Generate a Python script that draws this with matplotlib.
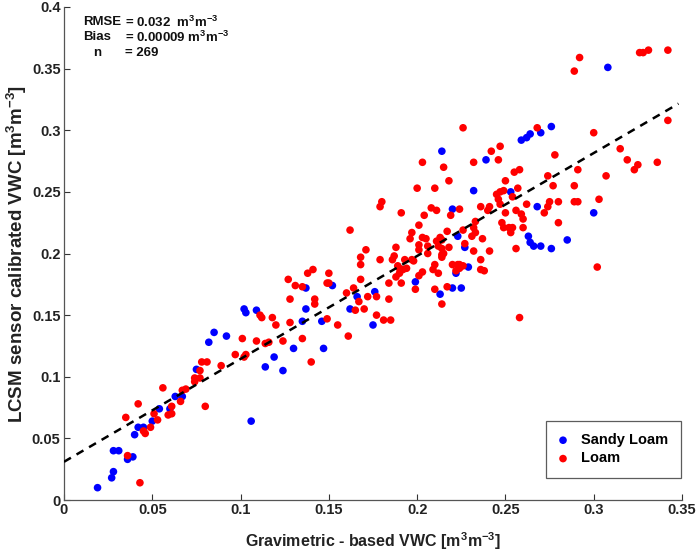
import numpy as np
import matplotlib
matplotlib.use("Agg")
import matplotlib.pyplot as plt

plt.rcParams['font.family'] = ['Liberation Sans', 'DejaVu Sans']
plt.rcParams['font.weight'] = 'bold'
plt.rcParams['mathtext.fontset'] = 'custom'
plt.rcParams['mathtext.rm'] = 'Liberation Sans:bold'
plt.rcParams['mathtext.bf'] = 'Liberation Sans:bold'
plt.rcParams['mathtext.default'] = 'bf'

# Sandy Loam (blue)
sandy_x = [0.019, 0.027, 0.028, 0.028, 0.031, 0.036, 0.039, 0.040, 0.042, 0.045,
           0.050, 0.054, 0.060, 0.063, 0.067, 0.075, 0.082, 0.085, 0.092, 0.102,
           0.103, 0.106, 0.109, 0.114, 0.119, 0.124, 0.130, 0.135, 0.137, 0.137,
           0.146, 0.147, 0.152, 0.162, 0.166, 0.176, 0.175, 0.199, 0.213, 0.220,
           0.225, 0.222, 0.229, 0.214, 0.232, 0.239, 0.259, 0.262, 0.264, 0.270,
           0.276, 0.308, 0.300, 0.285, 0.276, 0.270, 0.266, 0.264, 0.263, 0.268,
           0.253, 0.227, 0.223, 0.220]
sandy_y = [0.010, 0.018, 0.023, 0.040, 0.040, 0.033, 0.035, 0.053, 0.059, 0.059,
           0.064, 0.074, 0.074, 0.084, 0.084, 0.106, 0.128, 0.136, 0.133, 0.155,
           0.152, 0.064, 0.154, 0.108, 0.116, 0.105, 0.123, 0.145, 0.155, 0.172,
           0.145, 0.123, 0.174, 0.155, 0.165, 0.169, 0.142, 0.177, 0.167, 0.172,
           0.172, 0.184, 0.189, 0.283, 0.251, 0.276, 0.292, 0.294, 0.297, 0.298,
           0.303, 0.351, 0.233, 0.211, 0.204, 0.206, 0.206, 0.209, 0.214, 0.238,
           0.250, 0.205, 0.214, 0.236]

# Loam (red)
loam_x = [0.036, 0.035, 0.042, 0.043, 0.045, 0.046, 0.049, 0.051, 0.053, 0.056,
          0.059, 0.061, 0.061, 0.066, 0.067, 0.069, 0.074, 0.074, 0.077, 0.077,
          0.080, 0.078, 0.081, 0.089, 0.097, 0.101, 0.103, 0.102, 0.109, 0.111,
          0.112, 0.114, 0.116, 0.118, 0.120, 0.124, 0.127, 0.128, 0.128, 0.131,
          0.135, 0.135, 0.140, 0.142, 0.142, 0.149, 0.149, 0.150, 0.155, 0.161,
          0.160, 0.138, 0.141, 0.150, 0.162, 0.164,
          0.167, 0.165, 0.170, 0.172, 0.177, 0.184, 0.177, 0.181, 0.185, 0.168,
          0.184, 0.191, 0.210, 0.214, 0.217, 0.199, 0.201, 0.203, 0.198,
          0.226, 0.203, 0.215, 0.218, 0.200, 0.210, 0.232, 0.242, 0.247, 0.246,
          0.268, 0.255, 0.258, 0.250, 0.278, 0.274, 0.277,
          0.289, 0.292, 0.326, 0.328, 0.331, 0.342, 0.342, 0.300, 0.315, 0.319,
          0.325, 0.323, 0.336, 0.307, 0.291, 0.289, 0.303, 0.289, 0.291, 0.280,
          0.302, 0.280, 0.275, 0.274, 0.272,
          0.262, 0.260, 0.256, 0.257, 0.254, 0.245, 0.247, 0.249, 0.247, 0.246,
          0.241, 0.240, 0.236, 0.250, 0.256, 0.259, 0.260, 0.248, 0.249, 0.253,
          0.254, 0.252, 0.241, 0.237, 0.232, 0.232, 0.233, 0.231, 0.227, 0.226,
          0.233, 0.224, 0.219, 0.217, 0.213, 0.214, 0.211, 0.212, 0.214, 0.215,
          0.214, 0.218, 0.208, 0.211, 0.204, 0.201, 0.197, 0.196, 0.201, 0.203,
          0.205, 0.201, 0.206, 0.206,
          0.188, 0.186, 0.187, 0.179, 0.193, 0.197, 0.191, 0.179, 0.180, 0.171,
          0.168, 0.168, 0.189, 0.192, 0.190, 0.188, 0.194, 0.190, 0.209, 0.210,
          0.212, 0.214, 0.220, 0.223, 0.224, 0.226, 0.222, 0.224, 0.236, 0.236,
          0.238, 0.258]
loam_y = [0.036, 0.067, 0.078, 0.014, 0.056, 0.054, 0.059, 0.070, 0.065, 0.091,
          0.069, 0.070, 0.076, 0.080, 0.089, 0.090, 0.099, 0.096, 0.105, 0.099,
          0.076, 0.112, 0.112, 0.109, 0.118, 0.131, 0.118, 0.116, 0.129, 0.150,
          0.148, 0.127, 0.128, 0.148, 0.142, 0.129, 0.179, 0.163, 0.144, 0.174,
          0.173, 0.131, 0.112, 0.159, 0.163, 0.147, 0.176, 0.176, 0.142, 0.133,
          0.168, 0.184, 0.187, 0.184, 0.219, 0.172,
          0.161, 0.154, 0.155, 0.165, 0.165, 0.163, 0.150, 0.146, 0.146, 0.179,
          0.176, 0.176, 0.171, 0.159, 0.173, 0.171, 0.182, 0.185, 0.194,
          0.302, 0.274, 0.270, 0.259, 0.253, 0.253, 0.274, 0.283, 0.287, 0.276,
          0.302, 0.266, 0.268, 0.259, 0.280, 0.263, 0.255,
          0.348, 0.359, 0.363, 0.363, 0.365, 0.365, 0.308, 0.298, 0.285, 0.276,
          0.272, 0.268, 0.274, 0.263, 0.268, 0.255, 0.244, 0.242, 0.242, 0.225,
          0.189, 0.242, 0.242, 0.238, 0.233,
          0.240, 0.221, 0.204, 0.253, 0.246, 0.248, 0.250, 0.251, 0.240, 0.244,
          0.238, 0.235, 0.238, 0.233, 0.235, 0.232, 0.228, 0.225, 0.221, 0.217,
          0.221, 0.221, 0.202, 0.212, 0.202, 0.221, 0.217, 0.214, 0.208, 0.219,
          0.226, 0.236, 0.231, 0.218, 0.213, 0.211, 0.210, 0.206, 0.204, 0.200,
          0.199, 0.205, 0.237, 0.235, 0.231, 0.223, 0.217, 0.212, 0.207, 0.213,
          0.212, 0.203, 0.200, 0.206,
          0.205, 0.195, 0.198, 0.195, 0.195, 0.195, 0.233, 0.238, 0.242, 0.203,
          0.197, 0.191, 0.190, 0.187, 0.184, 0.181, 0.188, 0.188, 0.187, 0.191,
          0.184, 0.197, 0.191, 0.191, 0.191, 0.190, 0.186, 0.188, 0.195, 0.187,
          0.186, 0.148]

# dashed fit line
fit_intercept = 0.031
fit_slope = 0.835
fit_xmax = 0.348

x_ticks = [0, 0.05, 0.1, 0.15, 0.2, 0.25, 0.3, 0.35]
x_labels = ['0', '0.05', '0.1', '0.15', '0.2', '0.25', '0.3', '0.35']
y_ticks = [0, 0.05, 0.1, 0.15, 0.2, 0.25, 0.3, 0.35, 0.4]
y_labels = ['0', '0.05', '0.1', '0.15', '0.2', '0.25', '0.3', '0.35', '0.4']

fig = plt.figure(figsize=(6.99, 5.57), dpi=100)
ax = fig.add_axes([64/699, 1 - 500/557, 618/699, 493/557])

ax.scatter(sandy_x, sandy_y, s=30, color='#0000ff', edgecolors='none', label='Sandy Loam', zorder=3)
ax.scatter(loam_x, loam_y, s=30, color='#ff0000', edgecolors='none', label='Loam', zorder=3)

fx = np.array([0, fit_xmax])
ax.plot(fx, fit_intercept + fit_slope*fx, color='black', lw=1.8, ls=(0, (3.2, 2.6)), zorder=4)

ax.set_xlim(0, 0.35)
ax.set_ylim(0, 0.4)
ax.set_xticks(x_ticks)
ax.set_xticklabels(x_labels)
ax.set_yticks(y_ticks)
ax.set_yticklabels(y_labels)
ax.tick_params(direction='in', length=4, width=0.8, labelsize=10.5, colors='#333333',
               labelcolor='#222222', pad=2.5)
for side in ['top', 'right']:
    ax.spines[side].set_visible(False)
for side in ['left', 'bottom']:
    ax.spines[side].set_color('#555555')
    ax.spines[side].set_linewidth(0.9)

ax.set_xlabel(r'Gravimetric - based VWC [$m^3m^{-3}$]', fontsize=11.5, fontweight='bold', color='#222222', labelpad=9)
ax.set_ylabel(r'LCSM sensor calibrated VWC [$m^3m^{-3}$]', fontsize=13.5, fontweight='bold', color='#222222', labelpad=2)

txt = dict(transform=ax.transAxes, fontsize=9.5, fontweight='bold', va='center', color='#111111')
ax.text(0.031, 0.9696, 'RMSE', **txt)
ax.text(0.0985, 0.9696, r'= 0.032  $m^3m^{-3}$', **txt)
ax.text(0.031, 0.939, 'Bias', **txt)
ax.text(0.0985, 0.939, r'= 0.00009 $m^3m^{-3}$', **txt)
ax.text(0.047, 0.9067, 'n', **txt)
ax.text(0.0985, 0.9067, '= 269', **txt)

leg = ax.legend(loc='lower right', bbox_to_anchor=(0.998, 0.045), borderaxespad=0,
                fontsize=10.5, frameon=True, fancybox=False, handletextpad=0.9,
                borderpad=0.85, labelspacing=0.3, handlelength=0.7, markerscale=1.0)
leg.get_frame().set_edgecolor('#333333')
leg.get_frame().set_linewidth(0.9)

fig.savefig('out.png', dpi=100)
